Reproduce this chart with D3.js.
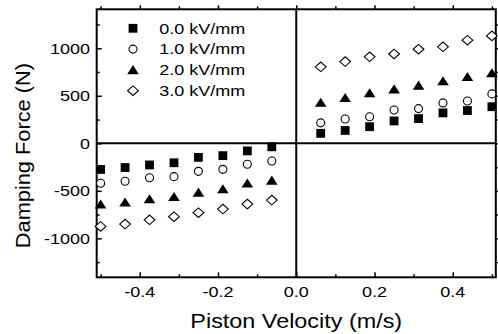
<!DOCTYPE html>
<html><head><meta charset="utf-8">
<script src="https://cdn.jsdelivr.net/npm/d3@7/dist/d3.min.js"></script>
<style>body{margin:0;background:#fff}svg{display:block}</style></head>
<body>
<svg id="chart" width="498" height="334"></svg>
<script>
// ---- data ----
const velocity = [-0.5,-0.4375,-0.375,-0.3125,-0.25,-0.1875,-0.125,-0.0625,
                  0.0625,0.125,0.1875,0.25,0.3125,0.375,0.4375,0.5];
const seriesNames = ["0.0 kV/mm","1.0 kV/mm","2.0 kV/mm","3.0 kV/mm"];
const force00 = [-275,-255,-228,-205,-148,-130,-80,-37, 105,135,175,235,260,320,345,385];
const force10 = [-420,-400,-363,-351,-295,-274,-221,-186, 215,255,280,350,365,425,445,520];
const force20 = [-642,-621,-586,-562,-516,-481,-421,-390, 430,480,530,570,610,655,700,740];
const force30 = [-875,-850,-805,-772,-730,-692,-640,-597, 805,860,910,940,990,1015,1085,1130];
const xTicks = [-0.4,-0.2,0,0.2,0.4];
const xTickLabels = ["-0.4","-0.2","0.0","0.2","0.4"];
const xMinorTicks = [-0.5,-0.3,-0.1,0.1,0.3,0.5];
const yTicks = [-1000,-500,0,500,1000];
const yTickLabels = ["-1000","-500","0","500","1000"];
const yMinorTicks = [-1250,-750,-250,250,750,1250];
const xTitle = "Piston Velocity (m/s)";
const yTitle = "Damping Force (N)";

const series = [force00, force10, force20, force30];
const shapes = ["square","circle","triangle","diamond"];

// ---- layout ----
const L = 96.7, R = 495.8, T = 9.3, B = 277.3;
const x = d3.scaleLinear().domain([-0.51, 0.51]).range([L, R]);
const y = d3.scaleLinear().domain([-1410, 1410]).range([B, T]);
const svg = d3.select("#chart");
const FONT = "'Liberation Sans', Arial, Helvetica, sans-serif";

function stretchedText(g, str, px, py, size, sx, anchor, rotate) {
  return g.append("text")
    .attr("transform", `translate(${px},${py})` + (rotate ? ` rotate(${rotate})` : "") + ` scale(${sx},1)`)
    .attr("text-anchor", anchor)
    .attr("font-family", FONT)
    .attr("font-size", size)
    .attr("fill", "#000")
    .text(str);
}

// ticks via d3 axes
function addAxis(axisFn, values, size, transform) {
  const g = svg.append("g").attr("transform", transform)
    .call(axisFn.tickValues(values).tickSize(size).tickSizeOuter(0).tickFormat(""));
  g.select(".domain").remove();
  g.selectAll(".tick line").attr("stroke", "#000").attr("stroke-width", 1.5);
  return g;
}
addAxis(d3.axisBottom(x), xTicks, -5, `translate(0,${B})`);
addAxis(d3.axisBottom(x), xMinorTicks, -3, `translate(0,${B})`);
addAxis(d3.axisTop(x), xTicks, 4, `translate(0,${T})`);
addAxis(d3.axisTop(x), xMinorTicks, 3, `translate(0,${T})`);
addAxis(d3.axisLeft(y), yTicks, -5, `translate(${L},0)`);
addAxis(d3.axisLeft(y), yMinorTicks, -3, `translate(${L},0)`);
addAxis(d3.axisRight(y), yTicks, 4, `translate(${R},0)`);
addAxis(d3.axisRight(y), yMinorTicks, 3, `translate(${R},0)`);

// frame and zero lines
svg.append("rect").attr("x", L).attr("y", T).attr("width", R - L).attr("height", B - T)
  .attr("fill", "none").attr("stroke", "#000").attr("stroke-width", 2);
svg.append("line").attr("x1", x(0)).attr("x2", x(0)).attr("y1", T).attr("y2", B)
  .attr("stroke", "#000").attr("stroke-width", 2);
svg.append("line").attr("x1", L).attr("x2", R).attr("y1", y(0)).attr("y2", y(0))
  .attr("stroke", "#000").attr("stroke-width", 2);

// tick labels
const lab = svg.append("g");
xTicks.forEach((v, i) => stretchedText(lab, xTickLabels[i], x(v), 296.5, 15, 1.2, "middle"));
yTicks.forEach((v, i) => stretchedText(lab, yTickLabels[i], 90, y(v) + 5.3, 15, 1.2, "end"));

// titles
stretchedText(svg, xTitle, (L + R) / 2, 328, 20, 1.17, "middle");
stretchedText(svg, yTitle, 29.5, 155.6, 20, 1.09, "middle", -90);

// markers
function drawMarker(g, shape, cx, cy) {
  if (shape === "square") {
    g.append("rect").attr("x", cx - 4.4).attr("y", cy - 4.4).attr("width", 8.8).attr("height", 8.8).attr("fill", "#000");
  } else if (shape === "circle") {
    g.append("circle").attr("cx", cx).attr("cy", cy).attr("r", 4).attr("fill", "#fff")
      .attr("stroke", "#000").attr("stroke-width", 1.1);
  } else if (shape === "triangle") {
    g.append("path").attr("d", `M${cx - 5.8},${cy + 4.3}L${cx + 5.8},${cy + 4.3}L${cx},${cy - 4.8}Z`).attr("fill", "#000");
  } else {
    g.append("path").attr("d", `M${cx - 5.4},${cy}L${cx},${cy - 4.8}L${cx + 5.4},${cy}L${cx},${cy + 4.8}Z`)
      .attr("fill", "#fff").attr("stroke", "#000").attr("stroke-width", 1.1);
  }
}
const pts = svg.append("g");
series.forEach((vals, si) => {
  vals.forEach((v, i) => drawMarker(pts, shapes[si], x(velocity[i]), y(v)));
});

// legend
const leg = svg.append("g");
seriesNames.forEach((name, i) => {
  const cy = 28.3 + i * 20.8;
  drawMarker(leg, shapes[i], 133, cy);
  stretchedText(leg, name, 159.3, cy + 5.3, 15, 1.2, "start");
});
</script>
</body></html>
